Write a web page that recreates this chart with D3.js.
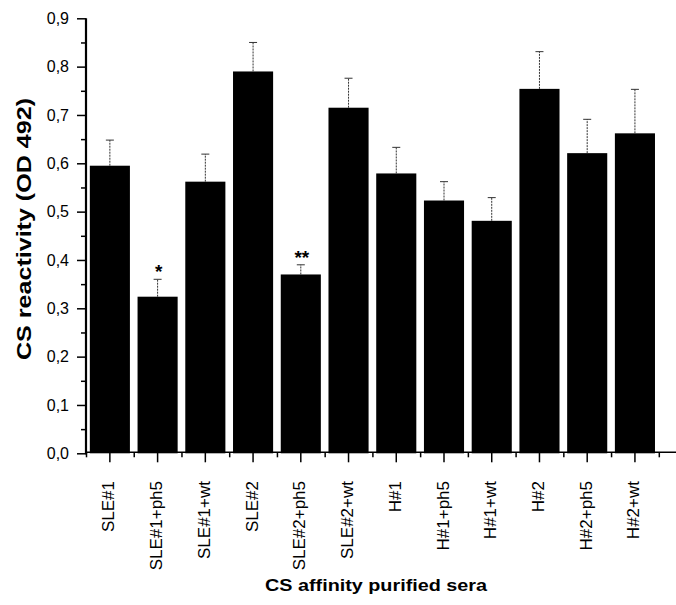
<!DOCTYPE html>
<html>
<head>
<meta charset="utf-8">
<script src="https://cdn.jsdelivr.net/npm/d3@7"></script>
<style>
  html, body { margin: 0; padding: 0; background: #fff; }
  svg { display: block; }
  text { font-family: "Liberation Sans", Arial, sans-serif; fill: #000; }
</style>
</head>
<body>
<svg id="chart" width="676" height="605"></svg>
<script>
const categories = ["SLE#1","SLE#1+ph5","SLE#1+wt","SLE#2","SLE#2+ph5","SLE#2+wt","H#1","H#1+ph5","H#1+wt","H#2","H#2+ph5","H#2+wt"];
const values = [0.595, 0.324, 0.562, 0.790, 0.370, 0.715, 0.579, 0.523, 0.481, 0.754, 0.621, 0.662];
const errors = [0.053, 0.036, 0.057, 0.060, 0.020, 0.061, 0.054, 0.039, 0.048, 0.077, 0.070, 0.091];
const significance = ["", "*", "", "", "**", "", "", "", "", "", "", ""];
const yMajorTicks = [0, 0.1, 0.2, 0.3, 0.4, 0.5, 0.6, 0.7, 0.8, 0.9];
const yMinorTicks = [0.05, 0.15, 0.25, 0.35, 0.45, 0.55, 0.65, 0.75, 0.85];
const yTitle = "CS reactivity (OD 492)";
const xTitle = "CS affinity purified sera";

const svg = d3.select("#chart");
const mLeft = 86, mRight = 658.8, mTop = 18.3, mBottom = 453.3;

const x = d3.scaleBand().domain(categories).range([mLeft, mRight]).paddingInner(0.16).paddingOuter(0.08);
const xIdx = d3.scaleLinear().domain([0, categories.length]).range([mLeft, mRight]);
const y = d3.scaleLinear().domain([0, 0.9]).range([mBottom, mTop]);

const data = categories.map((c, i) => ({c, v: values[i], e: errors[i], s: significance[i]}));

// bars
svg.append("g").selectAll("rect").data(data).join("rect")
  .attr("x", d => x(d.c))
  .attr("width", x.bandwidth())
  .attr("y", d => y(d.v))
  .attr("height", d => y(0) - y(d.v))
  .attr("fill", "#000");

// error bars (upper only)
const eb = svg.append("g").attr("stroke", "#333").attr("stroke-width", 1);
eb.selectAll("line.w").data(data).join("line").attr("class", "w")
  .attr("x1", d => x(d.c) + x.bandwidth() / 2)
  .attr("x2", d => x(d.c) + x.bandwidth() / 2)
  .attr("y1", d => y(d.v))
  .attr("y2", d => y(d.v + d.e))
  .attr("stroke-dasharray", "2,1");
eb.selectAll("line.c").data(data).join("line").attr("class", "c")
  .attr("x1", d => x(d.c) + x.bandwidth() / 2 - 4)
  .attr("x2", d => x(d.c) + x.bandwidth() / 2 + 4)
  .attr("y1", d => y(d.v + d.e))
  .attr("y2", d => y(d.v + d.e));

// significance stars
svg.append("g").selectAll("text").data(data.filter(d => d.s)).join("text")
  .attr("x", d => x(d.c) + x.bandwidth() / 2 + 1)
  .attr("y", d => y(d.v + d.e) - 1)
  .attr("text-anchor", "middle")
  .attr("font-size", 19)
  .attr("font-weight", "bold")
  .text(d => d.s);

// y axis
const yAxis = svg.append("g").attr("transform", `translate(${mLeft},0)`);
yAxis.call(d3.axisLeft(y).tickValues(yMajorTicks).tickSize(9).tickPadding(8)
  .tickFormat(d => d.toFixed(1).replace(".", ",")));
yAxis.select(".domain").remove();
yAxis.selectAll(".tick line").attr("stroke", "#000").attr("stroke-width", 1.5);
yAxis.selectAll(".tick text").attr("font-size", 16).attr("font-family", "Liberation Sans, Arial, sans-serif");
const yMinor = svg.append("g").attr("transform", `translate(${mLeft},0)`);
yMinor.call(d3.axisLeft(y).tickValues(yMinorTicks).tickSize(5).tickFormat(""));
yMinor.select(".domain").remove();
yMinor.selectAll(".tick line").attr("stroke", "#000").attr("stroke-width", 1.5);
svg.append("line").attr("x1", mLeft).attr("x2", mLeft).attr("y1", y(0.9)).attr("y2", y(0) + 1)
  .attr("stroke", "#000").attr("stroke-width", 2.2);

// x axis
const xAxis = svg.append("g").attr("transform", `translate(0,${mBottom - 1})`);
xAxis.call(d3.axisBottom(x).tickSize(10).tickFormat(""));
xAxis.select(".domain").remove();
xAxis.selectAll(".tick line").attr("stroke", "#000").attr("stroke-width", 1.5);
const xMinor = svg.append("g").attr("transform", `translate(0,${mBottom - 1})`);
xMinor.call(d3.axisBottom(xIdx).tickValues(d3.range(categories.length + 1)).tickSize(5).tickFormat(""));
xMinor.select(".domain").remove();
xMinor.selectAll(".tick line").attr("stroke", "#000").attr("stroke-width", 1.5);
svg.append("line").attr("x1", mLeft).attr("x2", 676).attr("y1", mBottom - 1).attr("y2", mBottom - 1)
  .attr("stroke", "#000").attr("stroke-width", 1.5);

// x tick labels (rotated)
svg.append("g").selectAll("text").data(categories).join("text")
  .attr("transform", d => `translate(${x(d) + x.bandwidth() / 2},481) rotate(-90)`)
  .attr("dy", 4.5)
  .attr("text-anchor", "end")
  .attr("font-size", 17)
  .text(d => d);

// titles
svg.append("text")
  .attr("transform", "translate(31,229) rotate(-90)")
  .attr("text-anchor", "middle")
  .attr("font-size", 21)
  .attr("font-weight", "bold")
  .attr("textLength", 262)
  .attr("lengthAdjust", "spacingAndGlyphs")
  .text(yTitle);

svg.append("text")
  .attr("x", 376)
  .attr("y", 591)
  .attr("text-anchor", "middle")
  .attr("font-size", 17)
  .attr("font-weight", "bold")
  .attr("textLength", 222)
  .attr("lengthAdjust", "spacingAndGlyphs")
  .text(xTitle);
</script>
</body>
</html>
